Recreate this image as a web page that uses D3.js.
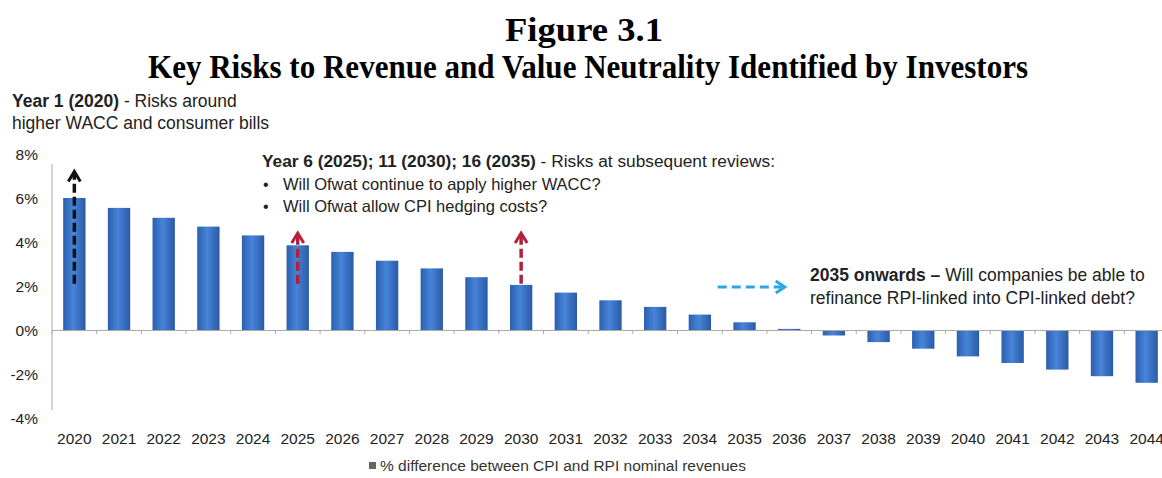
<!DOCTYPE html>
<html><head><meta charset="utf-8">
<script src="https://cdn.jsdelivr.net/npm/d3@7"></script>
<style>
body{margin:0;background:#fff;}
svg{display:block;}
text{font-family:"Liberation Sans",Arial,sans-serif;}
.title{font-family:"Liberation Serif","Times New Roman",serif;font-weight:bold;}
</style></head>
<body>
<script>
const years = ["2020","2021","2022","2023","2024","2025","2026","2027","2028","2029","2030","2031","2032","2033","2034","2035","2036","2037","2038","2039","2040","2041","2042","2043","2044"];
const values = [6.0,5.55,5.1,4.7,4.3,3.85,3.55,3.15,2.8,2.4,2.05,1.7,1.35,1.05,0.7,0.35,0.05,-0.25,-0.55,-0.85,-1.2,-1.5,-1.8,-2.1,-2.4];
const yTicks = [8,6,4,2,0,-2,-4];
const seriesName = "% difference between CPI and RPI nominal revenues";
// vertical arrows: year, from %, to %
const vArrowYears = ["2020","2025","2030"];
const vArrowFrom = [2.1,2.1,2.1];
const vArrowTo = [7.25,4.45,4.45];
// horizontal arrow: from index to index, at level %
const hArrowIdx = [14.4,15.9];
const hArrowLevel = 1.95;

const W=1162,H=478;
const svg=d3.select("body").append("svg").attr("width",W).attr("height",H);

const x=d3.scaleBand().domain(years).range([52,1169]).paddingInner(0.5).paddingOuter(0.25);
const y=d3.scaleLinear().domain([-4,8]).range([418,154]);
const step=x.step();
const cx=d=>x(d)+x.bandwidth()/2;
const xi=i=>cx(years[0])+i*step;

const defs=svg.append("defs");
const g=defs.append("linearGradient").attr("id","bg").attr("x1","0").attr("x2","1").attr("y1","0").attr("y2","0");
g.append("stop").attr("offset","0%").attr("stop-color","#2c5fae");
g.append("stop").attr("offset","45%").attr("stop-color","#4784d8");
g.append("stop").attr("offset","100%").attr("stop-color","#2a5aa6");

// titles
svg.append("text").attr("class","title").attr("x",584).attr("y",41).attr("text-anchor","middle").attr("font-size",33)
 .attr("textLength",158).attr("lengthAdjust","spacingAndGlyphs").text("Figure 3.1");
svg.append("text").attr("class","title").attr("x",588).attr("y",78).attr("text-anchor","middle").attr("font-size",33)
 .attr("textLength",880).attr("lengthAdjust","spacingAndGlyphs").text("Key Risks to Revenue and Value Neutrality Identified by Investors");

// y axis
const ya=svg.append("g");
ya.append("line").attr("x1",52).attr("x2",52).attr("y1",y(8)+10).attr("y2",y(-4)-8).attr("stroke","#aaa");
ya.selectAll("text").data(yTicks).join("text").attr("x",38).attr("y",d=>y(d)+6).attr("text-anchor","end")
 .attr("font-size",15.5).attr("fill","#222").text(d=>d+"%");

// bars
svg.append("g").selectAll("rect").data(years).join("rect")
 .attr("x",d=>x(d)).attr("width",x.bandwidth())
 .attr("y",(d,i)=>y(Math.max(0,values[i]))).attr("height",(d,i)=>Math.abs(y(values[i])-y(0)))
 .attr("fill","url(#bg)");

// x axis
const xa=svg.append("g").attr("transform",`translate(0,${y(0)})`)
 .call(d3.axisBottom(x).tickSize(0).tickFormat(""));
xa.select(".domain").attr("stroke","#aaa");
svg.append("g").selectAll("line").data(years).join("line")
 .attr("x1",d=>x(d)-x.step()*x.paddingInner()/2).attr("x2",d=>x(d)-x.step()*x.paddingInner()/2)
 .attr("y1",y(0)).attr("y2",y(0)+4).attr("stroke","#aaa");
svg.append("g").selectAll("text").data(years).join("text").attr("x",d=>cx(d)).attr("y",444)
 .attr("text-anchor","middle").attr("font-size",15.5).attr("fill","#222").text(d=>d);

// arrows
const cols=["#111","#b3203c","#b3203c"];
const av=svg.append("g");
vArrowYears.forEach((d,i)=>{
 const xx=cx(d),y0=y(vArrowFrom[i]),y1=y(vArrowTo[i]);
 av.append("line").attr("x1",xx).attr("x2",xx).attr("y1",y0).attr("y2",y1+4)
  .attr("stroke",cols[i]).attr("stroke-width",3.5).attr("stroke-dasharray","9,4");
 av.append("path").attr("d",`M${xx-6},${y1+11}L${xx},${y1+1}L${xx+6},${y1+11}`)
  .attr("fill","none").attr("stroke",cols[i]).attr("stroke-width",3);
});
const hx0=xi(hArrowIdx[0]),hx1=xi(hArrowIdx[1]),hy=y(hArrowLevel);
av.append("line").attr("x1",hx0).attr("x2",hx1-3).attr("y1",hy).attr("y2",hy)
 .attr("stroke","#2ba6e0").attr("stroke-width",3).attr("stroke-dasharray","9,5");
av.append("path").attr("d",`M${hx1-9},${hy-6}L${hx1},${hy}L${hx1-9},${hy+6}`)
 .attr("fill","none").attr("stroke","#2ba6e0").attr("stroke-width",3);

// annotations
const t1=svg.append("text").attr("x",12).attr("y",107).attr("font-size",17.5).attr("fill","#222");
t1.append("tspan").attr("font-weight","bold").text("Year 1 (2020)");
t1.append("tspan").text(" - Risks around");
svg.append("text").attr("x",12).attr("y",129).attr("font-size",17.5).attr("fill","#222").text("higher WACC and consumer bills");

const t2=svg.append("text").attr("x",262).attr("y",167).attr("font-size",17.3).attr("fill","#222");
t2.append("tspan").attr("font-weight","bold").text("Year 6 (2025); 11 (2030); 16 (2035)");
t2.append("tspan").text(" - Risks at subsequent reviews:");
["Will Ofwat continue to apply higher WACC?","Will Ofwat allow CPI hedging costs?"].forEach((s,i)=>{
 svg.append("text").attr("x",263).attr("y",190+i*22).attr("font-size",16).attr("fill","#222").text("•");
 svg.append("text").attr("x",283).attr("y",190+i*22).attr("font-size",16.5).attr("fill","#222").text(s);
});

const t3=svg.append("text").attr("x",810).attr("y",281).attr("font-size",17.5).attr("fill","#222");
t3.append("tspan").attr("font-weight","bold").text("2035 onwards –");
t3.append("tspan").text(" Will companies be able to");
svg.append("text").attr("x",810).attr("y",304).attr("font-size",17.5).attr("fill","#222").text("refinance RPI-linked into CPI-linked debt?");

// legend
svg.append("rect").attr("x",369).attr("y",462).attr("width",7).attr("height",7).attr("fill","#666");
svg.append("text").attr("x",380).attr("y",471).attr("font-size",15.5).attr("fill","#333").text(seriesName);
</script>
</body></html>
